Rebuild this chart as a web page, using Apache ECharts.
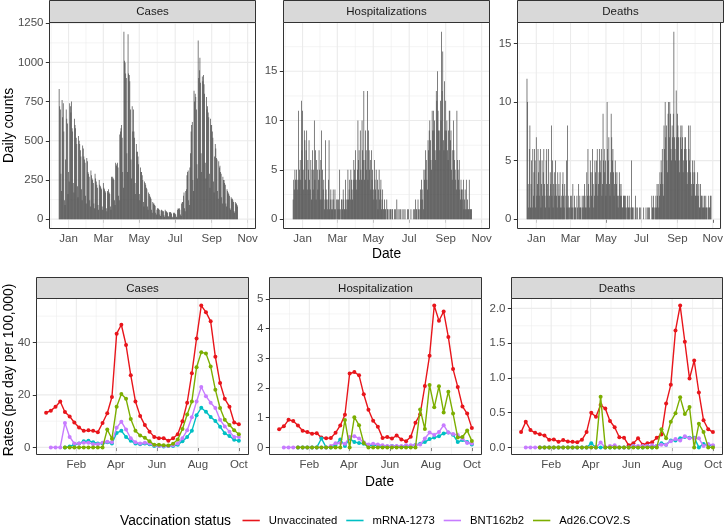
<!DOCTYPE html>
<html><head><meta charset="utf-8">
<script src="https://cdn.jsdelivr.net/npm/echarts@6/dist/echarts.min.js"></script>
<style>html,body{margin:0;padding:0;background:#fff}#c{width:726px;height:527px}</style>
</head><body><div id="c"></div>
<script>
// ---------------- DATA ----------------
const dailyStart = [2020, 12, 16];   // first day of daily counts (Wed)
const dailyCases = [
830,720,700,290,180,760,650, 740,560,120,90,380,700,640, 610,160,300,240,740,720,680,
750,580,560,230,170,640,600, 580,520,480,210,140,530,500, 480,440,400,190,120,470,450,
400,380,360,150,100,390,370, 300,290,270,120,80,310,280, 260,250,230,100,70,290,260,
240,220,200,90,60,250,220, 210,200,190,80,60,230,200, 190,180,170,70,50,180,170,
190,170,160,80,60,270,260, 270,260,250,120,90,360,340, 350,360,330,150,120,540,560,
580,600,520,300,200,1195,1010, 1000,930,900,420,300,1180,930, 920,880,700,380,260,720,560,
700,560,520,230,160,480,430, 430,400,350,160,120,330,300, 300,280,250,110,80,240,230,
220,200,190,80,60,170,160, 150,140,130,60,40,110,100, 100,90,85,40,30,60,70,
70,65,60,30,20,55,60, 55,50,50,25,15,60,50, 50,45,40,20,15,45,40,
45,40,35,15,10,40,35, 40,35,30,15,10,60,70, 65,70,60,30,20,100,110,
110,150,170,70,50,180,190, 280,300,310,120,90,330,420, 560,600,620,250,180,820,750,
800,780,700,350,260,1140,900, 950,1030,870,420,300,910,880, 920,860,800,360,260,780,700,
720,680,650,290,200,640,600, 600,560,520,240,170,400,480, 450,390,380,180,130,370,330,
340,300,290,140,100,270,250, 250,230,220,100,80,190,180, 170,160,150,70,60,140,130,
130,120,110,50,40,110,100, 100,90,80
];
const dailyHosp = [
2,4,3,5,4,4,5, 3,4,11,4,5,6,4, 12,7,11,5,3,9,8, 4,7,9,3,6,5,8, 4,3,6,2,5,7,3,
5,10,4,7,2,6,5, 3,4,7,5,2,6,9, 2,5,3,4,1,2,8, 3,2,1,2,4,8,1, 2,3,1,2,1,3,2,
1,3,1,0,2,2,1, 2,1,5,1,0,2,2, 1,3,2,1,1,4,2, 1,2,5,2,3,4,2, 5,4,3,2,4,6,5,
4,7,4,3,5,10,6, 7,4,9,5,4,10,7, 6,13,4,6,9,7,5, 13,4,9,7,5,6,3, 7,4,5,3,2,6,4,
3,5,2,4,1,3,5, 2,3,4,1,2,3,1, 1,2,1,1,0,2,1, 1,0,1,0,1,1,0, 1,1,0,0,1,0,1,
0,2,0,1,0,1,0, 1,0,0,1,0,0,1, 0,1,0,0,0,1,0, 1,0,0,0,1,0,0, 0,1,0,1,0,2,1,
1,0,2,1,0,1,3, 2,4,3,2,1,5,4, 5,7,6,4,3,8,7, 9,10,8,6,5,11,9, 11,9,10,7,6,13,12,
15,11,9,9,7,12,10, 19,13,17,8,7,14,9, 12,9,10,7,6,9,11, 11,8,9,5,4,7,10,
7,6,5,4,3,11,6, 5,4,6,3,2,4,3, 3,2,4,1,2,3,1, 4,1,2,1,1,4,1, 1,1,1
];
const dailyDeaths = [
12,10,3,1,6,8,1, 3,5,1,6,2,4,6, 5,1,7,2,3,6,4, 2,5,6,1,3,5,2, 4,6,3,2,1,5,6,
3,2,6,1,2,4,3, 8,2,5,1,3,4,2, 5,3,2,1,4,2,3, 2,4,1,2,1,3,4, 2,1,3,0,2,5,1,
8,2,1,1,0,2,1, 2,1,3,0,1,2,1, 1,0,2,1,0,3,1, 2,1,1,0,2,1,2, 1,3,2,1,1,4,2,
6,3,2,1,5,4,2, 4,6,3,1,2,5,4, 3,5,6,2,3,4,6, 5,4,6,2,3,9,5, 6,4,5,2,3,10,6,
5,7,3,2,4,9,7, 5,6,4,2,3,5,4, 3,4,2,1,2,4,3, 2,3,2,1,1,2,2, 2,1,2,1,0,2,1,
1,2,1,0,1,5,1, 1,0,1,0,0,2,1, 0,1,0,0,0,1,0, 1,0,0,0,0,1,0, 0,0,1,0,0,1,1,
0,1,0,0,0,2,1, 1,2,1,0,1,2,1, 3,2,3,1,2,4,3, 5,4,6,3,2,8,6, 10,7,8,5,4,9,10,
7,10,9,6,5,8,7, 9,16,7,6,5,11,7, 9,8,7,5,4,7,8, 6,8,7,4,5,6,7, 7,6,5,3,4,8,6,
5,8,4,3,2,5,4, 3,5,4,2,2,3,2, 4,2,3,1,1,3,2, 2,1,2,1,1,2,1, 2,1,1,0,1,2,1,
1,2,2
];

const weeklyStart = [2020, 12, 18];  // first weekly point
const casesUnvax = [13.2,14.0,15.5,17.5,13.5,11.8,9.5,7.6,6.3,6.5,6.3,5.8,9.3,13.0,19.2,43.3,46.7,39.0,27.5,17.5,12.0,8.5,6.0,4.0,3.5,3.5,2.5,3.5,5.0,10.0,17.0,28.2,41.5,54.0,51.5,48.0,34.5,24.5,18.5,15.5,9.5,8.8];
const casesMod   = [null,null,null,null,0,0.3,1.2,1.5,2.3,2.5,2.0,1.5,1.5,2.0,1.5,5.5,6.3,4.0,2.5,1.5,1.2,1.5,1.2,0.5,0.5,0.3,0.5,0.5,1.0,2.3,4.0,6.3,12.2,15.1,13.6,11.6,10.1,7.9,5.4,4.3,2.9,2.5];
const casesPfz   = [null,0,0,0,9.3,4.0,1.5,1.5,1.8,1.8,1.2,1.2,1.8,2.2,2.0,7.5,9.8,6.8,3.5,2.0,1.5,1.8,1.5,0.8,0.5,0.5,0.5,0.8,1.5,3.5,6.5,11.5,17.5,23.0,19.5,17.0,15.0,10.5,8.0,6.0,4.0,4.0];
const casesJJ    = [null,null,null,null,0,0,0,0,0,0,0,0,0,6.8,3.3,15.5,20.3,18.5,10.8,6.3,4.5,3.7,2.3,1.0,1.0,0.8,0.7,1.4,3.0,7.0,12.5,17.5,30.5,36.2,35.8,30.8,22.0,15.0,10.5,8.5,6.5,5.0];

const hospUnvax = [0.61,0.71,0.93,0.89,0.74,0.56,0.52,0.46,0.48,0.33,0.31,0.32,0.49,0.74,1.10,2.49,2.54,2.43,1.79,1.27,0.90,0.70,0.32,0.35,0.30,0.40,0.27,0.21,0.36,0.83,1.12,2.07,3.09,4.78,4.27,4.58,3.72,2.64,2.04,1.38,1.14,0.65];
const hospMod   = [null,null,null,null,0,0,0,0,0,0.30,0,0,0.08,0.27,0.05,0.30,0.18,0.15,0.12,0.05,0.08,0.05,0.05,0.03,0.05,0.03,0.02,0.05,0.05,0.08,0.12,0.18,0.28,0.33,0.38,0.47,0.50,0.43,0.18,0.25,0.18,0.10];
const hospPfz   = [null,0,0,0,0,0,0,0,0,0,0,0.05,0.14,0.15,0.12,0.35,0.38,0.30,0.17,0.10,0.12,0.10,0.07,0.05,0.05,0.05,0.05,0.07,0.07,0.08,0.10,0.30,0.50,0.42,0.52,0.75,0.50,0.45,0.42,0.30,0.15,0.13];
const hospJJ    = [null,null,null,null,0,0,0,0,0,0,0,0,0,0,0.92,0,1.02,0.75,0.15,0,0,0,0,0,0,0,0,0,0,0,1.28,0.62,2.10,1.35,2.06,1.18,1.88,1.14,0.33,0.35,0.57,0.22];

const deathsUnvax = [0.22,0.37,0.25,0.21,0.19,0.17,0.11,0.115,0.08,0.105,0.085,0.08,0.075,0.11,0.22,0.50,0.44,0.61,0.56,0.38,0.29,0.145,0.14,0.03,0.06,0.13,0.04,0.06,0.075,0.14,0.185,0.63,0.90,1.68,2.04,1.52,0.99,1.25,0.79,0.39,0.26,0.22];
const deathsMod   = [null,null,null,null,0,0,0,0,0,0,0,0,0,0,0,0.06,0,0,0,0,0,0,0,0,0.02,0,0,0.02,0,0.02,0.06,0.04,0.10,0.10,0.13,0.15,0.14,0.14,0,0.05,0.03,0.02];
const deathsPfz   = [null,0,0,0,0,0,0,0,0,0,0,0,0,0,0,0,0,0.07,0,0.02,0.03,0,0,0,0.02,0.02,0.02,0.02,0.03,0.02,0.04,0.04,0.09,0.12,0.10,0.16,0.13,0.13,0.13,0.02,0.05,0.03];
const deathsJJ    = [null,null,null,null,0,0,0,0,0,0,0,0,0,0,0,0,0,0.73,0,0,0,0,0,0,0,0,0,0,0,0,0.26,0.13,0.37,0.49,0.72,0.48,0.58,0,0.34,0.22,0,0];

const seriesNames = ['Unvaccinated', 'mRNA-1273', 'BNT162b2', 'Ad26.COV2.S'];
const topTitles = ['Cases', 'Hospitalizations', 'Deaths'];
const bottomTitles = ['Cases', 'Hospitalization', 'Deaths'];
const topXTicks = [[2021,1,1],[2021,3,1],[2021,5,1],[2021,7,1],[2021,9,1],[2021,11,1]];
const topXLabels = ['Jan','Mar','May','Jul','Sep','Nov'];
const bottomXTicks = [[2021,2,1],[2021,4,1],[2021,6,1],[2021,8,1],[2021,10,1]];
const bottomXLabels = ['Feb','Apr','Jun','Aug','Oct'];
const topYTicks = [[0,250,500,750,1000,1250],[0,5,10,15],[0,5,10,15]];
const bottomYTicks = [[0,20,40],[0,1,2,3,4,5],[0,0.5,1,1.5,2]];

// ---------------- STYLE / LAYOUT ----------------
const FONT = '"Liberation Sans", Arial, Helvetica, sans-serif';
const COLORS = ['#E8151B', '#00BFC4', '#C77CFF', '#7CAE00'];
const BAR_COLOR = '#4D4D4D';
const DAY = 86400000;
const topLayout = [{left:49.5,width:206},{left:283.5,width:206},{left:517.5,width:206}];
const topTop = 22.5, topH = 206;
const botLayout = [{left:36.5,width:212},{left:269.5,width:212},{left:511.5,width:211}];
const botTop = 298.5, botH = 156;

function ts(a, addDays) { return new Date(a[0], a[1]-1, a[2] + (addDays||0)).getTime(); }

const dailyArrays = [dailyCases, dailyHosp, dailyDeaths];
const weeklyArrays = [
  [casesUnvax, casesMod, casesPfz, casesJJ],
  [hospUnvax, hospMod, hospPfz, hospJJ],
  [deathsUnvax, deathsMod, deathsPfz, deathsJJ]
];

// x ranges (ggplot-like 5% expansion)
const maxDailyLen = Math.max(...dailyArrays.map(a => a.length));
const dStart = ts(dailyStart) - 0.45*DAY;
const dEnd = ts(dailyStart, maxDailyLen-1) + 0.45*DAY;
const topXMin = dStart - 0.05*(dEnd-dStart), topXMax = dEnd + 0.05*(dEnd-dStart);
const nWeeks = casesUnvax.length;
const wStart = ts(weeklyStart), wEnd = ts(weeklyStart, 7*(nWeeks-1));
const botXMin = wStart - 0.05*(wEnd-wStart), botXMax = wEnd + 0.05*(wEnd-wStart);

function mids(arr, lo, hi) {
  const out = [];
  const step0 = arr[1]-arr[0], stepN = arr[arr.length-1]-arr[arr.length-2];
  const ext = [arr[0]-step0, ...arr, arr[arr.length-1]+stepN];
  for (let i = 0; i < ext.length-1; i++) { const m = (ext[i]+ext[i+1])/2; if (m > lo && m < hi) out.push(m); }
  return out;
}

const grids = [], xAxes = [], yAxes = [], series = [], graphics = [];

function addPanel(idx, lay, top, h, xMin, xMax, xTicks, xLabels, yMin, yMax, yTicks, yFmt, title, stripTop, stripH) {
  grids.push({ left: lay.left, top: top, width: lay.width, height: h, show: true,
    borderColor: '#333333', borderWidth: 1, backgroundColor: 'transparent', z: 20 });
  xAxes.push({ type: 'value', gridIndex: idx, min: xMin, max: xMax, scale: true,
    axisLine: { show: false },
    axisTick: { show: true, length: 3.7, lineStyle: { color: '#333333', width: 1 }, customValues: xTicks },
    axisLabel: { customValues: xTicks, color: '#4D4D4D', fontSize: 11.5, fontFamily: FONT, margin: 4.5,
      formatter: v => { let k = -1; xTicks.forEach((t, j) => { if (Math.abs(t - v) < 1000) k = j; }); return k >= 0 ? xLabels[k] : ''; } },
    splitLine: { show: false } });
  yAxes.push({ type: 'value', gridIndex: idx, min: yMin, max: yMax,
    axisLine: { show: false },
    axisTick: { show: true, length: 3.7, lineStyle: { color: '#333333', width: 1 }, customValues: yTicks },
    axisLabel: { customValues: yTicks, color: '#4D4D4D', fontSize: 11.5, fontFamily: FONT, margin: 6, formatter: yFmt },
    splitLine: { show: false } });
  // grid lines via custom series (through scales)
  const gdata = [];
  mids(yTicks, yMin, yMax).forEach(v => gdata.push([xMin, v, 1]));
  mids(xTicks, xMin, xMax).forEach(v => gdata.push([v, yMin, 3]));
  yTicks.forEach(v => gdata.push([xMin, v, 0]));
  xTicks.forEach(v => gdata.push([v, yMin, 2]));
  series.push({ type: 'custom', xAxisIndex: idx, yAxisIndex: idx, z: 1, silent: true, animation: false,
    encode: { x: 0, y: 1 }, data: gdata,
    renderItem: function (params, api) {
      const cs = params.coordSys; const k = api.value(2);
      const style = { stroke: '#EBEBEB', lineWidth: (k === 0 || k === 2) ? 1.1 : 0.55 };
      if (k < 2) { const y = api.coord([api.value(0), api.value(1)])[1];
        return { type: 'line', shape: { x1: cs.x, y1: y, x2: cs.x + cs.width, y2: y }, style }; }
      const x = api.coord([api.value(0), api.value(1)])[0];
      return { type: 'line', shape: { x1: x, y1: cs.y, x2: x, y2: cs.y + cs.height }, style };
    } });
  graphics.push({ type: 'rect', shape: { x: lay.left, y: stripTop, width: lay.width, height: stripH },
    style: { fill: '#D9D9D9', stroke: '#333333', lineWidth: 1 }, z: 100 });
  graphics.push({ type: 'text', x: lay.left + lay.width/2, y: stripTop + stripH/2 + 0.5, z: 101,
    style: { text: title, fill: '#1A1A1A', font: '11.5px ' + FONT, align: 'center', verticalAlign: 'middle' } });
}

const topXT = topXTicks.map(a => ts(a)), botXT = bottomXTicks.map(a => ts(a));

for (let p = 0; p < 3; p++) {
  const arr = dailyArrays[p];
  const M = Math.max(...arr);
  addPanel(p, topLayout[p], topTop, topH, topXMin, topXMax, topXT, topXLabels,
    -0.05*M, 1.05*M, topYTicks[p], v => String(v), topTitles[p], 0.5, 22);
  series.push({ type: 'bar', name: 'daily' + p, xAxisIndex: p, yAxisIndex: p, z: 10,
    barWidth: 0.72, barMinWidth: 0.5, barMaxWidth: 0.8, large: false, animation: false, silent: true,
    itemStyle: { color: BAR_COLOR }, emphasis: { disabled: true },
    data: arr.map((v, i) => [ts(dailyStart, i), v]) });
}
for (let p = 0; p < 3; p++) {
  const idx = 3 + p;
  const sets = weeklyArrays[p];
  let M = 0; sets.forEach(s => s.forEach(v => { if (v != null && v > M) M = v; }));
  const fmt = p === 2 ? (v => v.toFixed(1)) : (v => String(v));
  addPanel(idx, botLayout[p], botTop, botH, botXMin, botXMax, botXT, bottomXLabels,
    -0.05*M, 1.05*M, bottomYTicks[p], fmt, bottomTitles[p], 277.5, 21);
  sets.forEach((s, k) => {
    series.push({ type: 'line', name: seriesNames[k], xAxisIndex: idx, yAxisIndex: idx, z: 10 + k,
      animation: false, silent: true, symbol: 'circle', symbolSize: 4, showSymbol: true,
      connectNulls: false, clip: false,
      lineStyle: { color: COLORS[k], width: 1.4 }, itemStyle: { color: COLORS[k] },
      emphasis: { disabled: true },
      data: s.map((v, i) => [ts(weeklyStart, 7*i), v]) });
  });
}

// axis titles
graphics.push({ type: 'text', x: 9.5, y: topTop + topH/2, rotation: Math.PI/2, z: 101,
  style: { text: 'Daily counts', fill: '#000', font: '13.8px ' + FONT, align: 'center', verticalAlign: 'middle' } });
graphics.push({ type: 'text', x: (topLayout[0].left + topLayout[2].left + topLayout[2].width)/2, y: 254, z: 101,
  style: { text: 'Date', fill: '#000', font: '13.8px ' + FONT, align: 'center', verticalAlign: 'middle' } });
graphics.push({ type: 'text', x: 9.5, y: 370, rotation: Math.PI/2, z: 101,
  style: { text: 'Rates (per day per 100,000)', fill: '#000', font: '13.8px ' + FONT, align: 'center', verticalAlign: 'middle' } });
graphics.push({ type: 'text', x: (botLayout[0].left + botLayout[2].left + botLayout[2].width)/2, y: 482, z: 101,
  style: { text: 'Date', fill: '#000', font: '13.8px ' + FONT, align: 'center', verticalAlign: 'middle' } });
graphics.push({ type: 'text', x: 120, y: 521.5, z: 101,
  style: { text: 'Vaccination status', fill: '#000', font: '13.8px ' + FONT, align: 'left', verticalAlign: 'middle' } });

const chart = echarts.init(document.getElementById('c'), null, { renderer: 'canvas' });
chart.setOption({
  backgroundColor: '#ffffff',
  animation: false,
  grid: grids, xAxis: xAxes, yAxis: yAxes, series: series,
  legend: { show: true, data: seriesNames, left: 242.5, top: 515, padding: 0, icon: 'rect',
    itemWidth: 17.3, itemHeight: 1.6, itemGap: 9, selectedMode: false,
    textStyle: { fontSize: 11.3, color: '#000', fontFamily: FONT, padding: [0, 0, 0, 4] } },
  graphic: { elements: graphics },
  tooltip: { show: false }
});
</script></body></html>
